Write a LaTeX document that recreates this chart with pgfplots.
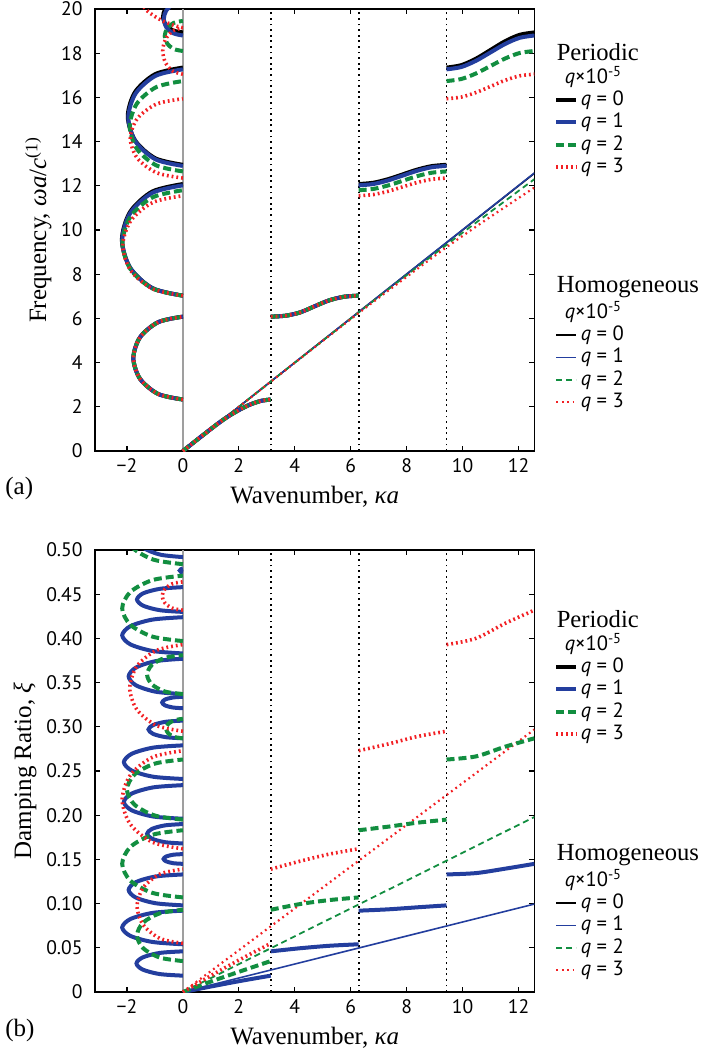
\documentclass[border=0pt]{standalone}
\usepackage{fontspec}
\setmainfont{Liberation Serif}
\newfontfamily\tickfont{PT Sans}
\usepackage{pgfplots}
\pgfplotsset{compat=1.18}

\definecolor{bl}{RGB}{35,62,158}
\definecolor{gr}{RGB}{18,142,64}
\definecolor{rd}{RGB}{242,32,36}

\tikzset{
  pK/.style={black, line width=2pt},
  pB/.style={bl, line width=2pt},
  pG/.style={gr, line width=2pt, dash pattern=on 4pt off 2pt},
  pR/.style={rd, line width=1.8pt, dash pattern=on 0.9pt off 1.5pt},
  hK/.style={black, line width=0.8pt},
  hB/.style={bl, line width=0.8pt},
  hG/.style={gr, line width=0.9pt, dash pattern=on 3pt off 2pt},
  hR/.style={rd, line width=1.1pt, dash pattern=on 0.9pt off 1.8pt},
  vline/.style={black, line width=0.9pt, dash pattern=on 0.9pt off 1.9pt},
}
\newcommand\legtitle{\fontsize{12.3}{14}\selectfont}
\newcommand\legtext{\tickfont\fontsize{10.3}{12}\selectfont}
% legend block: #1 = y of title (pt), #2 = title, #3 = p or h
\newcommand\legblock[3]{%
  \node[anchor=west, inner sep=0, font=\legtitle] at (11pt,{#1pt}) {#2};
  \node[anchor=west, inner sep=0, font=\legtext] at (15pt,{#1pt-12.5pt}) {\itshape q\/\upshape×10\textsuperscript{-5}};
  \draw[#3K] (11pt,{#1pt-24pt}) -- (21pt,{#1pt-24pt});
  \node[anchor=west, inner sep=0, font=\legtext] at (23pt,{#1pt-24pt}) {\itshape q\/\upshape{} = 0};
  \draw[#3B] (11pt,{#1pt-35.2pt}) -- (21pt,{#1pt-35.2pt});
  \node[anchor=west, inner sep=0, font=\legtext] at (23pt,{#1pt-35.2pt}) {\itshape q\/\upshape{} = 1};
  \draw[#3G] (11pt,{#1pt-46.4pt}) -- (21pt,{#1pt-46.4pt});
  \node[anchor=west, inner sep=0, font=\legtext] at (23pt,{#1pt-46.4pt}) {\itshape q\/\upshape{} = 2};
  \draw[#3R] (11pt,{#1pt-57.6pt}) -- (21pt,{#1pt-57.6pt});
  \node[anchor=west, inner sep=0, font=\legtext] at (23pt,{#1pt-57.6pt}) {\itshape q\/\upshape{} = 3};
}

\pgfplotsset{
  panel/.style={
    scale only axis,
    width=219.7pt, height=221pt,
    xmin=-3.1416, xmax=12.5664,
    xtick={-2,0,2,4,6,8,10,12},
    xticklabels={−2,0,2,4,6,8,10,12},
    tick align=inside,
    major tick length=2.6pt,
    axis line style={line width=0.9pt},
    every tick/.style={black, line width=0.6pt},
    ticklabel style={font=\tickfont\fontsize{9.8}{11}\selectfont},
    yticklabel style={xshift=-2.7pt},
    label style={font=\fontsize{12.5}{14}\selectfont},
    ylabel style={yshift=-2pt},
    xlabel={Wavenumber, \textit{κa}},
    no markers,
  },
}

\begin{document}
\begin{tikzpicture}

% ---------------- (a) frequency ----------------
\begin{axis}[panel, name=a, at={(0,0)}, anchor=south west,
  ymin=0, ymax=20,
  ytick={0,2,...,20},
  yticklabels={0,2,4,6,8,10,12,14,16,18,20},
  ylabel={Frequency, \textit{ωa}/\textit{c}\textsuperscript{(1)}},
]
\addplot[gray!75, line width=0.8pt] coordinates {(0,0) (0,20)};
\addplot[vline] coordinates {(3.1416,0) (3.1416,20)};
\addplot[vline] coordinates {(6.2832,0) (6.2832,20)};
\addplot[vline] coordinates {(9.4248,0) (9.4248,20)};

% homogeneous
\addplot[hK] coordinates {(0,0) (12.5664,12.5664)};
\addplot[hB] coordinates {(0,0) (12.5664,12.58)};
\addplot[hG, smooth] coordinates {(0,0) (6.2832,6.27) (9.4248,9.33) (12.5664,12.3)};
\addplot[hR, smooth] coordinates {(0,0) (4,3.99) (6.2832,6.24) (8,7.88) (9.4248,9.22) (11,10.6) (12.5664,11.92)};

% periodic, branch 1 and 2 (all q coincide)
\addplot[pK, smooth] coordinates {(0,0) (0.6,0.6) (1.2,1.19) (1.6,1.55) (2.0,1.85) (2.4,2.1) (2.8,2.27) (3.1416,2.33)};
\addplot[pB, smooth] coordinates {(0,0) (0.6,0.6) (1.2,1.19) (1.6,1.55) (2.0,1.85) (2.4,2.1) (2.8,2.27) (3.1416,2.33)};
\addplot[pG, smooth] coordinates {(0,0) (0.6,0.6) (1.2,1.19) (1.6,1.55) (2.0,1.85) (2.4,2.1) (2.8,2.27) (3.1416,2.33)};
\addplot[pR, smooth] coordinates {(0,0) (0.6,0.6) (1.2,1.19) (1.6,1.55) (2.0,1.85) (2.4,2.1) (2.8,2.27) (3.1416,2.33)};
\addplot[pK, smooth] coordinates {(3.1416,6.08) (3.6652,6.12) (4.1888,6.27) (4.7124,6.55) (5.2360,6.82) (5.7596,6.98) (6.2832,7.03)};
\addplot[pB, smooth] coordinates {(3.1416,6.08) (3.6652,6.12) (4.1888,6.27) (4.7124,6.55) (5.2360,6.82) (5.7596,6.98) (6.2832,7.03)};
\addplot[pG, smooth] coordinates {(3.1416,6.08) (3.6652,6.12) (4.1888,6.27) (4.7124,6.55) (5.2360,6.82) (5.7596,6.98) (6.2832,7.03)};
\addplot[pR, smooth] coordinates {(3.1416,6.08) (3.6652,6.12) (4.1888,6.27) (4.7124,6.55) (5.2360,6.82) (5.7596,6.98) (6.2832,7.03)};
% branch 3
\addplot[pK, smooth] coordinates {(6.2832,12.08) (6.8068,12.138) (7.3304,12.298) (7.8540,12.515) (8.3776,12.733) (8.9012,12.892) (9.4248,12.95)};
\addplot[pB, smooth] coordinates {(6.2832,12.02) (6.8068,12.08) (7.3304,12.24) (7.8540,12.46) (8.3776,12.68) (8.9012,12.84) (9.4248,12.9)};
\addplot[pG, smooth] coordinates {(6.2832,11.8) (6.8068,11.857) (7.3304,12.013) (7.8540,12.225) (8.3776,12.438) (8.9012,12.593) (9.4248,12.65)};
\addplot[pR, smooth] coordinates {(6.2832,11.55) (6.8068,11.604) (7.3304,11.75) (7.8540,11.95) (8.3776,12.15) (8.9012,12.296) (9.4248,12.35)};
% branch 4
\addplot[pK, smooth] coordinates {(9.4248,17.35) (9.9484,17.457) (10.4720,17.748) (10.9956,18.145) (11.5192,18.543) (12.0428,18.833) (12.5664,18.94)};
\addplot[pB, smooth] coordinates {(9.4248,17.27) (9.9484,17.373) (10.4720,17.653) (10.9956,18.035) (11.5192,18.418) (12.0428,18.697) (12.5664,18.8)};
\addplot[pG, smooth] coordinates {(9.4248,16.74) (9.9484,16.831) (10.4720,17.08) (10.9956,17.42) (11.5192,17.76) (12.0428,18.009) (12.5664,18.1)};
\addplot[pR, smooth] coordinates {(9.4248,15.94) (9.9484,16.014) (10.4720,16.218) (10.9956,16.495) (11.5192,16.773) (12.0428,16.976) (12.5664,17.05)};

% evanescent loops (imaginary part)
\addplot[pK, smooth] coordinates {(0,2.33) (-0.885,2.581) (-1.533,3.268) (-1.77,4.205) (-1.533,5.143) (-0.885,5.829) (0,6.08)};
\addplot[pB, smooth] coordinates {(0,2.33) (-0.885,2.581) (-1.533,3.268) (-1.77,4.205) (-1.533,5.143) (-0.885,5.829) (0,6.08)};
\addplot[pG, smooth] coordinates {(0,2.33) (-0.885,2.581) (-1.533,3.268) (-1.77,4.205) (-1.533,5.143) (-0.885,5.829) (0,6.08)};
\addplot[pR, smooth] coordinates {(0,2.33) (-0.885,2.581) (-1.533,3.268) (-1.77,4.205) (-1.533,5.143) (-0.885,5.829) (0,6.08)};

\addplot[pK, smooth] coordinates {(0,7.03) (-1.09,7.368) (-1.888,8.293) (-2.18,9.555) (-1.888,10.818) (-1.09,11.742) (0,12.08)};
\addplot[pB, smooth] coordinates {(0,7.03) (-1.085,7.365) (-1.879,8.28) (-2.17,9.525) (-1.879,10.77) (-1.085,11.685) (0,12.02)};
\addplot[pG, smooth] coordinates {(0,7.03) (-1.08,7.35) (-1.871,8.223) (-2.16,9.415) (-1.871,10.608) (-1.08,11.48) (0,11.8)};
\addplot[pR, smooth] coordinates {(0,7.03) (-1.075,7.333) (-1.862,8.16) (-2.15,9.29) (-1.862,10.42) (-1.075,11.247) (0,11.55)};

\addplot[pK, smooth] coordinates {(0,12.95) (-0.985,13.245) (-1.706,14.05) (-1.97,15.15) (-1.706,16.25) (-0.985,17.055) (0,17.35)};
\addplot[pB, smooth] coordinates {(0,12.9) (-0.975,13.193) (-1.689,13.993) (-1.95,15.085) (-1.689,16.178) (-0.975,16.977) (0,17.27)};
\addplot[pG, smooth] coordinates {(0,12.65) (-0.95,12.924) (-1.645,13.673) (-1.9,14.695) (-1.645,15.718) (-0.95,16.466) (0,16.74)};
\addplot[pR, smooth] coordinates {(0,12.35) (-0.94,12.591) (-1.628,13.248) (-1.88,14.145) (-1.628,15.043) (-0.94,15.699) (0,15.94)};

\addplot[pK, smooth] coordinates {(0,18.94) (-0.35,19.03) (-0.61,19.28) (-0.71,19.65) (-0.63,20.0) (-0.4,20.3)};
\addplot[pB, smooth] coordinates {(0,18.8) (-0.34,18.9) (-0.59,19.17) (-0.68,19.55) (-0.6,19.92) (-0.35,20.25)};
\addplot[pG, smooth] coordinates {(0,18.1) (-0.33,18.19) (-0.56,18.44) (-0.65,18.78) (-0.56,19.12) (-0.33,19.37) (0,19.46)};
\addplot[pR, smooth] coordinates {(0,17.05) (-0.36,17.19) (-0.624,17.575) (-0.72,18.1) (-0.624,18.625) (-0.36,19.01) (0,19.15)};
\addplot[pR, smooth] coordinates {(0,19.15) (-0.3,19.25) (-0.7,19.45) (-1.05,19.7) (-1.3,19.95) (-1.45,20.2)};
\end{axis}

% ---------------- (b) damping ----------------
\begin{axis}[panel, name=b, at={(0,-270.5pt)}, anchor=south west,
  ymin=0, ymax=0.5,
  ytick={0,0.05,...,0.5},
  yticklabels={0,0.05,0.10,0.15,0.20,0.25,0.30,0.35,0.40,0.45,0.50},
  ylabel={Damping Ratio, \textit{ξ}},
]
\addplot[gray!75, line width=0.8pt] coordinates {(0,0) (0,0.5)};
\addplot[vline] coordinates {(3.1416,0) (3.1416,0.5)};
\addplot[vline] coordinates {(6.2832,0) (6.2832,0.5)};
\addplot[vline] coordinates {(9.4248,0) (9.4248,0.5)};

% homogeneous
\addplot[hK] coordinates {(0,0) (12.5664,0)};
\addplot[hB] coordinates {(0,0) (12.5664,0.0995)};
\addplot[hG] coordinates {(0,0) (12.5664,0.198)};
\addplot[hR] coordinates {(0,0) (12.5664,0.297)};

% periodic, q = 1
\addplot[pB, smooth] coordinates {(0,0) (1,0.0062) (2,0.0122) (3.1416,0.0185)};
\addplot[pB, smooth] coordinates {(3.1416,0.046) (4.1888,0.0495) (5.236,0.0523) (6.2832,0.054)};
\addplot[pB, smooth] coordinates {(6.2832,0.092) (7.3304,0.0935) (8.3776,0.0958) (9.4248,0.098)};
\addplot[pB, smooth] coordinates {(9.4248,0.133) (10.472,0.1345) (11.5192,0.1395) (12.5664,0.145)};
% periodic, q = 2
\addplot[pG, smooth] coordinates {(0,0) (1,0.0118) (2,0.0228) (3.1416,0.035)};
\addplot[pG, smooth] coordinates {(3.1416,0.093) (4.1888,0.0995) (5.236,0.104) (6.2832,0.107)};
\addplot[pG, smooth] coordinates {(6.2832,0.183) (7.3304,0.187) (8.3776,0.1915) (9.4248,0.195)};
\addplot[pG, smooth] coordinates {(9.4248,0.263) (10.472,0.2665) (11.5192,0.2775) (12.5664,0.287)};
% periodic, q = 3
\addplot[pR, smooth] coordinates {(0,0) (1,0.0185) (2,0.036) (3.1416,0.055)};
\addplot[pR, smooth] coordinates {(3.1416,0.139) (4.1888,0.148) (5.236,0.156) (6.2832,0.162)};
\addplot[pR, smooth] coordinates {(6.2832,0.273) (7.3304,0.2805) (8.3776,0.289) (9.4248,0.295)};
\addplot[pR, smooth] coordinates {(9.4248,0.393) (10.472,0.4) (11.5192,0.417) (12.5664,0.432)};

% loops, q = 1
\addplot[pB, smooth] coordinates {(0,0.0185) (-0.83,0.0203) (-1.438,0.0254) (-1.66,0.0323) (-1.438,0.0391) (-0.83,0.0442) (0,0.046)};
\addplot[pB, smooth] coordinates {(0,0.054) (-1.085,0.0566) (-1.879,0.0635) (-2.17,0.073) (-1.879,0.0825) (-1.085,0.0895) (0,0.092)};
\addplot[pB, smooth] coordinates {(0,0.098) (-0.97,0.1004) (-1.68,0.1068) (-1.94,0.1155) (-1.68,0.1243) (-0.97,0.1307) (0,0.133)};
\addplot[pB, smooth] coordinates {(0,0.145) (-0.345,0.1457) (-0.598,0.1478) (-0.69,0.1505) (-0.598,0.1533) (-0.345,0.1553) (0,0.156)};
\addplot[pB, smooth] coordinates {(0,0.168) (-0.64,0.1695) (-1.108,0.1735) (-1.28,0.179) (-1.108,0.1845) (-0.64,0.1885) (0,0.190)};
\addplot[pB, smooth] coordinates {(0,0.196) (-1.055,0.1985) (-1.827,0.2055) (-2.11,0.215) (-1.827,0.2245) (-1.055,0.2315) (0,0.234)};
\addplot[pB, smooth] coordinates {(0,0.241) (-1.055,0.2435) (-1.827,0.2505) (-2.11,0.260) (-1.827,0.2695) (-1.055,0.2765) (0,0.279)};
\addplot[pB, smooth] coordinates {(0,0.287) (-0.615,0.2883) (-1.065,0.292) (-1.23,0.297) (-1.065,0.302) (-0.615,0.3057) (0,0.307)};
\addplot[pB, smooth] coordinates {(0,0.321) (-0.37,0.3219) (-0.641,0.3243) (-0.74,0.3275) (-0.641,0.3308) (-0.37,0.3331) (0,0.334)};
\addplot[pB, smooth] coordinates {(0,0.337) (-0.97,0.3397) (-1.68,0.347) (-1.94,0.357) (-1.68,0.367) (-0.97,0.3743) (0,0.377)};
\addplot[pB, smooth] coordinates {(0,0.383) (-1.085,0.3858) (-1.879,0.3933) (-2.17,0.4035) (-1.879,0.4138) (-1.085,0.4213) (0,0.424)};
\addplot[pB, smooth] coordinates {(0,0.430) (-0.82,0.4319) (-1.42,0.437) (-1.64,0.444) (-1.42,0.451) (-0.82,0.4561) (0,0.458)};
\addplot[pB, smooth] coordinates {(0,0.4745) (-0.07,0.4752) (-0.11,0.4768) (-0.07,0.4783) (0,0.479)};
\addplot[pB, smooth] coordinates {(0,0.492) (-0.8,0.4947) (-1.386,0.502) (-1.6,0.512) (-1.386,0.522) (-0.8,0.5293) (0,0.532)};
% loops, q = 2
\addplot[pG, smooth] coordinates {(0,0.035) (-0.82,0.0389) (-1.42,0.0495) (-1.64,0.064) (-1.42,0.0785) (-0.82,0.0891) (0,0.093)};
\addplot[pG, smooth] coordinates {(0,0.107) (-1.085,0.1121) (-1.879,0.126) (-2.17,0.145) (-1.879,0.164) (-1.085,0.1779) (0,0.183)};
\addplot[pG, smooth] coordinates {(0,0.195) (-1,0.1996) (-1.732,0.212) (-2,0.229) (-1.732,0.246) (-1,0.2584) (0,0.263)};
\addplot[pG, smooth] coordinates {(0,0.287) (-0.3,0.2885) (-0.52,0.2925) (-0.6,0.298) (-0.52,0.3035) (-0.3,0.3075) (0,0.309)};
\addplot[pG, smooth] coordinates {(0,0.337) (-0.64,0.3399) (-1.108,0.348) (-1.28,0.359) (-1.108,0.370) (-0.64,0.378) (0,0.381)};
\addplot[pG, smooth] coordinates {(0,0.397) (-1.085,0.402) (-1.879,0.4155) (-2.17,0.434) (-1.879,0.4525) (-1.085,0.466) (0,0.471)};
\addplot[pG, smooth] coordinates {(0,0.484) (-1.05,0.4891) (-1.819,0.503) (-2.1,0.522) (-1.819,0.541) (-1.05,0.555) (0,0.560)};
% loops, q = 3
\addplot[pR, smooth] coordinates {(0,0.055) (-0.82,0.0606) (-1.42,0.076) (-1.64,0.097) (-1.42,0.118) (-0.82,0.1334) (0,0.139)};
\addplot[pR, smooth] coordinates {(0,0.162) (-1.085,0.1694) (-1.879,0.1898) (-2.17,0.2175) (-1.879,0.2453) (-1.085,0.2656) (0,0.273)};
\addplot[pR, smooth] coordinates {(0,0.295) (-0.95,0.3016) (-1.645,0.3195) (-1.9,0.344) (-1.645,0.3685) (-0.95,0.3864) (0,0.393)};
\addplot[pR, smooth] coordinates {(0,0.432) (-0.37,0.4341) (-0.641,0.44) (-0.74,0.448) (-0.641,0.456) (-0.37,0.4619) (0,0.464)};
\end{axis}

% legends
\begin{scope}[shift={(a.north east)}]
  \legblock{-21.5}{Periodic}{p}
  \legblock{-139}{Homogeneous}{h}
\end{scope}
\begin{scope}[shift={(b.north east)}]
  \legblock{-34.5}{Periodic}{p}
  \legblock{-152.5}{Homogeneous}{h}
\end{scope}

\node[anchor=west, inner sep=0, font=\fontsize{12.5}{14}\selectfont] at ([shift={(-45pt,-18.5pt)}]a.south west) {(a)};
\node[anchor=west, inner sep=0, font=\fontsize{12.5}{14}\selectfont] at ([shift={(-45pt,-19pt)}]b.south west) {(b)};

\pgfresetboundingbox
\path[use as bounding box] (-47.5pt,225.5pt) rectangle (305.7pt,-302pt);
\end{tikzpicture}
\end{document}
